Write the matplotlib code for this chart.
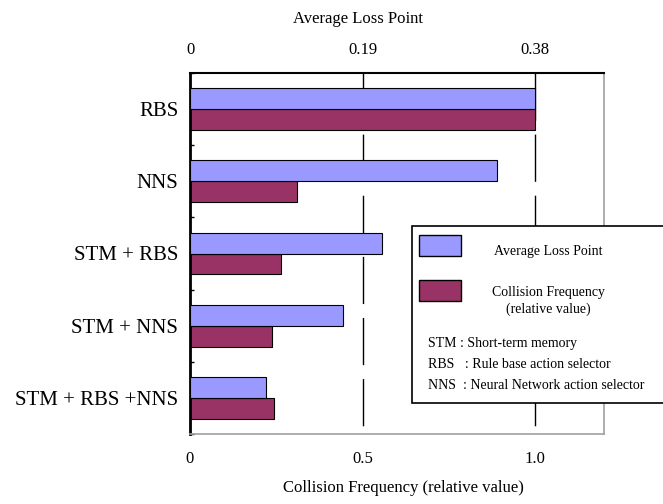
import matplotlib
matplotlib.use('Agg')
import matplotlib.pyplot as plt
from matplotlib.patches import Rectangle
import numpy as np

categories = ['RBS', 'NNS', 'STM + RBS', 'STM + NNS', 'STM + RBS +NNS']
avg_loss_point = [0.38, 0.338, 0.211, 0.169, 0.084]
collision_freq = [1.0, 0.311, 0.263, 0.239, 0.243]

bottom_ticks = [0, 0.5, 1.0]
bottom_labels = ['0', '0.5', '1.0']
top_ticks = [0, 0.19, 0.38]
top_labels = ['0', '0.19', '0.38']

blue = '#9999FF'
red = '#993366'

plt.rcParams['font.family'] = 'Liberation Serif'

W, H = 663, 504


def fx(x):
    return x / W


def fy(y):
    return 1 - y / H


fig = plt.figure(figsize=(W / 100, H / 100), dpi=100)
ax = fig.add_axes([fx(190), fy(434), (604 - 190) / W, (434 - 73) / H])

y = np.arange(len(categories))
bar_h = 0.29

ax.set_xlim(0, 1.2)
ax.set_ylim(len(categories) - 0.5, -0.5)

# dashed grid lines, drawn from the top edge down
for v in bottom_ticks[1:]:
    ax.plot([v, v], [-0.5, len(categories) - 0.5], color='black', lw=1,
            linestyle=(0, (34, 10)), zorder=0.5)

ax.barh(y + bar_h / 2, collision_freq, height=bar_h, color=red,
        edgecolor='black', lw=0.8, zorder=2)

ax.set_xticks(bottom_ticks, labels=bottom_labels)
ax.tick_params(axis='x', length=0, pad=12.5, labelsize=12)
ax.set_yticks(y, labels=categories)
ax.tick_params(axis='y', which='major', length=0, pad=8.5, labelsize=15)
ax.set_yticks(np.arange(-0.5, len(categories), 1), minor=True)
ax.tick_params(axis='y', which='minor', direction='in', length=3, width=1)

ax.spines['left'].set_linewidth(2)
ax.spines['top'].set_linewidth(1.5)
ax.spines['right'].set_color('#a0a0a0')
ax.spines['bottom'].set_color('#a0a0a0')
ax.spines['right'].set_linewidth(1.2)
ax.spines['bottom'].set_linewidth(1.2)

ax2 = ax.twiny()
ax2.set_xlim(0, 1.2 * 0.38)
ax2.barh(y - bar_h / 2, avg_loss_point, height=bar_h, color=blue,
         edgecolor='black', lw=0.8, zorder=2)
ax2.set_xticks(top_ticks, labels=top_labels)
ax2.tick_params(axis='x', length=0, pad=10.5, labelsize=12)
for s in ax2.spines.values():
    s.set_visible(False)

fig.text(fx(358), fy(23), 'Average Loss Point', ha='center', va='baseline',
         fontsize=12)
fig.text(fx(403), fy(492), 'Collision Frequency (relative value)',
         ha='center', va='baseline', fontsize=12)

# legend box
fig.add_artist(Rectangle((fx(412), fy(403)), (670 - 412) / W, (403 - 226) / H,
                         transform=fig.transFigure, facecolor='white',
                         edgecolor='black', lw=1.2, zorder=5))
fig.add_artist(Rectangle((fx(419), fy(256)), 42 / W, 21 / H,
                         transform=fig.transFigure, facecolor=blue,
                         edgecolor='black', lw=1, zorder=6))
fig.add_artist(Rectangle((fx(419), fy(301)), 42 / W, 21 / H,
                         transform=fig.transFigure, facecolor=red,
                         edgecolor='black', lw=1, zorder=6))

lkw = dict(fontsize=10, va='baseline', zorder=7)
fig.text(fx(548), fy(255), 'Average Loss Point', ha='center', **lkw)
fig.text(fx(548), fy(296), 'Collision Frequency', ha='center', **lkw)
fig.text(fx(548), fy(313), '(relative value)', ha='center', **lkw)
fig.text(fx(428), fy(347), 'STM : Short-term memory', ha='left', **lkw)
fig.text(fx(428), fy(368), 'RBS   : Rule base action selector', ha='left', **lkw)
fig.text(fx(428), fy(389), 'NNS  : Neural Network action selector', ha='left', **lkw)

fig.savefig('out.png', dpi=100)
plt.close()
